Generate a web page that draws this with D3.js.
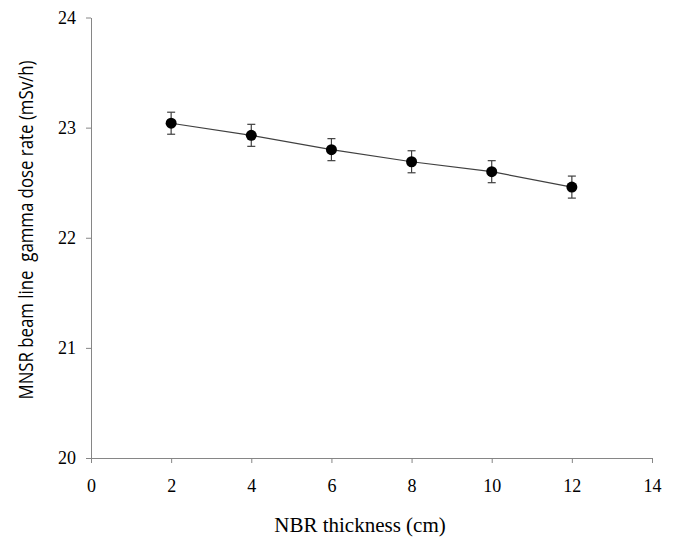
<!DOCTYPE html>
<html>
<head>
<meta charset="utf-8" />
<script src="https://cdn.jsdelivr.net/npm/d3@7"></script>
<style>
  body { margin: 0; background: #fff; }
  svg .axis path, svg .axis line { stroke: #868686; }
</style>
</head>
<body>
<div id="chart"></div>
<script>
var width = 680, height = 538;
var serif = "'Liberation Serif', 'Times New Roman', 'DejaVu Serif', serif";

// data
var thickness = [2, 4, 6, 8, 10, 12];
var doseRate = [23.04, 22.93, 22.80, 22.69, 22.60, 22.46];
var doseErr = [0.1, 0.1, 0.1, 0.1, 0.1, 0.1];
var xTicks = [0, 2, 4, 6, 8, 10, 12, 14];
var yTicks = [20, 21, 22, 23, 24];

var plotLeft = 91, plotRight = 652, plotTop = 17.5, plotBottom = 458;

var x = d3.scaleLinear().domain([0, 14]).range([plotLeft, plotRight]);
var y = d3.scaleLinear().domain([20, 24]).range([plotBottom, plotTop]);

var svg = d3.select("#chart").append("svg")
  .attr("width", width)
  .attr("height", height);

var xAxis = svg.append("g")
  .attr("class", "axis")
  .attr("transform", "translate(0," + plotBottom + ")")
  .call(d3.axisBottom(x).tickValues(xTicks).tickFormat(d3.format("d"))
    .tickSize(5).tickSizeOuter(0).tickPadding(16));

var yAxis = svg.append("g")
  .attr("class", "axis")
  .attr("transform", "translate(" + plotLeft + ",0)")
  .call(d3.axisLeft(y).tickValues(yTicks).tickFormat(d3.format("d"))
    .tickSize(5).tickSizeOuter(0).tickPadding(10));

[xAxis, yAxis].forEach(function(g) {
  g.attr("font-family", serif).attr("font-size", 18);
  g.selectAll("text").attr("fill", "#000");
});

var pts = thickness.map(function(d, i) { return { x: d, y: doseRate[i], e: doseErr[i] }; });

// line through points
svg.append("path")
  .datum(pts)
  .attr("fill", "none")
  .attr("stroke", "#404040")
  .attr("stroke-width", 1.2)
  .attr("d", d3.line().x(function(d) { return x(d.x); }).y(function(d) { return y(d.y); }));

// error bars
var eb = svg.append("g").attr("stroke", "#404040").attr("stroke-width", 1.2);
eb.selectAll(".v").data(pts).enter().append("line")
  .attr("x1", function(d) { return x(d.x); })
  .attr("x2", function(d) { return x(d.x); })
  .attr("y1", function(d) { return y(d.y + d.e); })
  .attr("y2", function(d) { return y(d.y - d.e); });
[1, -1].forEach(function(s) {
  eb.selectAll(".c" + s).data(pts).enter().append("line")
    .attr("x1", function(d) { return x(d.x) - 4; })
    .attr("x2", function(d) { return x(d.x) + 4; })
    .attr("y1", function(d) { return y(d.y + s * d.e); })
    .attr("y2", function(d) { return y(d.y + s * d.e); });
});

svg.append("g").selectAll("circle").data(pts).enter().append("circle")
  .attr("cx", function(d) { return x(d.x); })
  .attr("cy", function(d) { return y(d.y); })
  .attr("r", 5.5)
  .attr("fill", "#000");

svg.append("text")
  .attr("x", 360)
  .attr("y", 532)
  .attr("text-anchor", "middle")
  .attr("font-family", serif)
  .attr("font-size", 21)
  .text("NBR thickness (cm)");

// y title looks squeezed along its length in the reference
svg.append("text")
  .attr("transform", "translate(33,230) rotate(-90)")
  .attr("text-anchor", "middle")
  .attr("font-family", "'Open Sans', sans-serif")
  .attr("font-size", 20)
  .attr("textLength", 339)
  .attr("lengthAdjust", "spacingAndGlyphs")
  .style("white-space", "pre")
  .text("MNSR beam line  gamma dose rate (mSv/h)");
</script>
</body>
</html>
